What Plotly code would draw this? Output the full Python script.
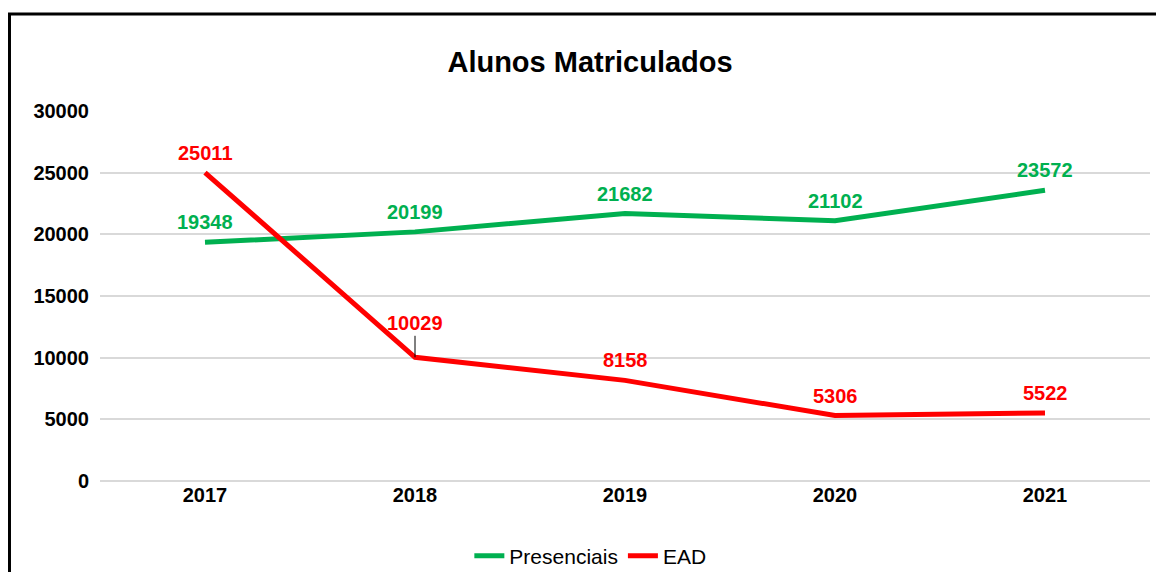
import plotly.graph_objects as go

anos = ["2017", "2018", "2019", "2020", "2021"]
presenciais = [19348, 20199, 21682, 21102, 23572]
ead = [25011, 10029, 8158, 5306, 5522]

VERDE = "#00b050"
VERMELHO = "#ff0000"
FONTE = "Liberation Sans, Arial, sans-serif"

fig = go.Figure()
fig.add_trace(go.Scatter(
    x=anos, y=presenciais, name="Presenciais", mode="lines",
    line=dict(color=VERDE, width=5),
))
fig.add_trace(go.Scatter(
    x=anos, y=ead, name="EAD", mode="lines",
    line=dict(color=VERMELHO, width=5),
))

# rotulos de dados
for serie, cor in ((presenciais, VERDE), (ead, VERMELHO)):
    for i, v in enumerate(serie):
        destaque = (serie is ead and i == 1)
        fig.add_annotation(
            xref="x", yref="y", x=i, y=v, text=f"<b>{v}</b>",
            font=dict(family=FONTE, size=20, color=cor),
            showarrow=destaque, arrowhead=0, arrowwidth=1, arrowcolor="black",
            ax=0, ay=-34,
            yshift=0 if destaque else 20,
        )

fig.update_layout(
    width=1156, height=564,
    paper_bgcolor="white", plot_bgcolor="white",
    margin=dict(l=92, r=14, t=103, b=91, autoexpand=False),
    font=dict(family=FONTE, color="black"),
    title=dict(text="<b>Alunos Matriculados</b>", x=0.5035, xanchor="center",
               y=0.904, yanchor="middle",
               font=dict(family=FONTE, size=29, color="black")),
    showlegend=True,
    legend=dict(orientation="h", x=0.467, xanchor="center", y=-0.203,
                yanchor="middle", font=dict(family=FONTE, size=21, color="black")),
    xaxis=dict(type="category", range=[-0.5, 4.5], showgrid=False, zeroline=False,
               showline=False, ticks="",
               tickfont=dict(family=FONTE, size=20, color="black"),
               tickprefix="<b>", ticksuffix="</b>"),
    yaxis=dict(range=[0, 30000], dtick=5000, showgrid=True, gridcolor="#d9d9d9",
               gridwidth=1.5, zeroline=True, zerolinecolor="#d9d9d9",
               zerolinewidth=1.5, showline=False, ticks="",
               tickformat="d", ticklabelstandoff=10,
               tickfont=dict(family=FONTE, size=20, color="black"),
               tickprefix="<b>", ticksuffix="</b>"),
    # moldura: so borda esquerda e superior visiveis
    shapes=[dict(type="rect", xref="paper", yref="paper",
                 x0=-0.0862, x1=1.1, y0=-0.4, y1=1.2622,
                 line=dict(color="black", width=3), layer="below")],
)

fig.write_html("out.html")
